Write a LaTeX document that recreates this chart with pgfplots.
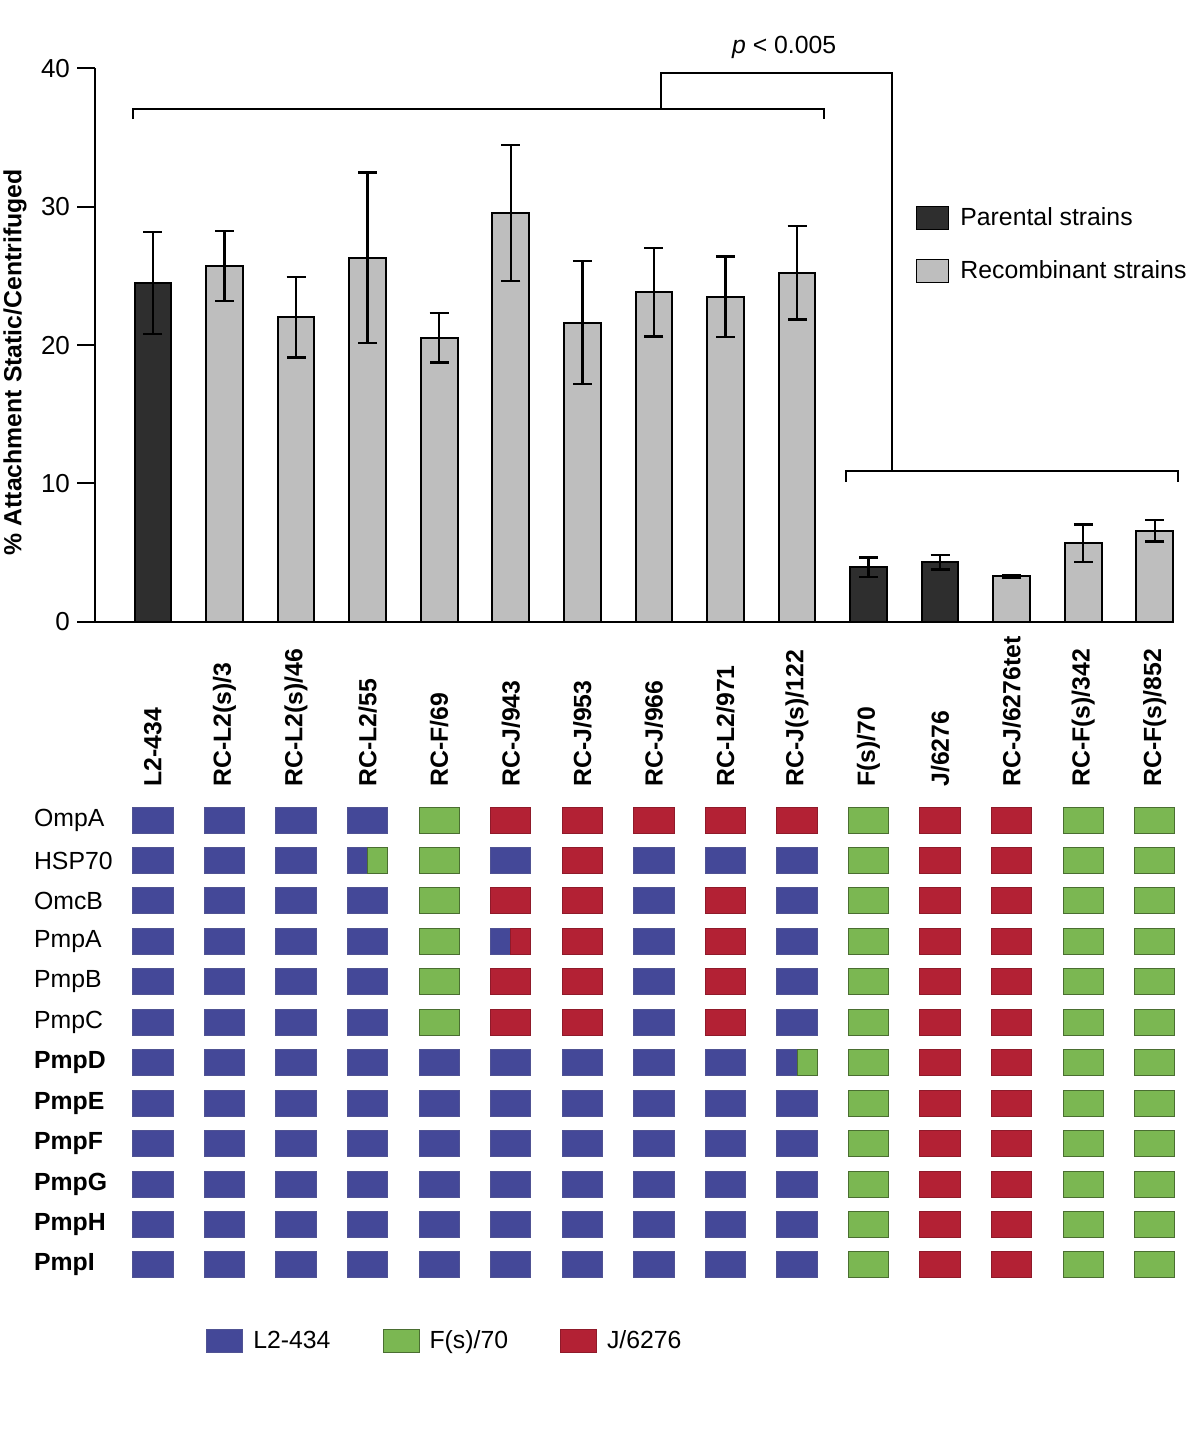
\documentclass[border=0pt]{standalone}
\usepackage{fontspec}
\setmainfont{Liberation Sans}
\usepackage{pgfplots}
\pgfplotsset{compat=1.18}
\usepackage{pgfplotstable}

\definecolor{pdark}{HTML}{2E2E2E}
\definecolor{plight}{HTML}{BEBEBE}
\definecolor{cblue}{HTML}{444898}
\definecolor{cgreen}{HTML}{7BB752}
\definecolor{cred}{HTML}{B32134}

\newcommand{\fs}{\fontsize{12.4pt}{14pt}\selectfont}

\pgfdeclareplotmark{cellfull}{\pgfpathrectangle{\pgfpoint{-10.075pt}{-6.5pt}}{\pgfpoint{20.15pt}{13pt}}\pgfusepathqfillstroke}
\pgfdeclareplotmark{cellleft}{\pgfpathrectangle{\pgfpoint{-10.075pt}{-6.5pt}}{\pgfpoint{10.075pt}{13pt}}\pgfusepathqfillstroke}
\pgfdeclareplotmark{cellright}{\pgfpathrectangle{\pgfpoint{0pt}{-6.5pt}}{\pgfpoint{10.075pt}{13pt}}\pgfusepathqfillstroke}

\pgfplotstableread{
x y e
0 24.49 3.67
10 3.95 0.70
11 4.29 0.53
}\parental

\pgfplotstableread{
x y e
1 25.72 2.52
2 22.01 2.90
3 26.32 6.16
4 20.54 1.80
5 29.55 4.93
6 21.62 4.45
7 23.82 3.20
8 23.50 2.92
9 25.24 3.38
12 3.28 0.10
13 5.67 1.36
14 6.58 0.79
}\recomb

\begin{document}
\begin{tikzpicture}
\useasboundingbox (-47.5pt,-405.65pt) rectangle (552.5pt,310.85pt);

% ---------------- bar chart ----------------
\begin{axis}[
  at={(0pt,0pt)}, anchor=south west,
  x=35.78pt, y=6.915pt,
  xmin=-0.81, xmax=14.25, ymin=0, ymax=40,
  axis x line*=bottom, axis y line*=left,
  axis line style={line width=1pt, black},
  clip=false,
  ytick={0,10,20,30,40},
  tick align=outside,
  major tick length=9pt,
  ytick style={line width=1pt, black},
  yticklabel style={font=\fontsize{13pt}{15pt}\selectfont},
  /pgf/number format/assume math mode=true,
  xtick={0,...,14},
  xticklabels={L2-434,RC-L2(s)/3,RC-L2(s)/46,RC-L2/55,RC-F/69,RC-J/943,RC-J/953,RC-J/966,RC-L2/971,RC-J(s)/122,F(s)/70,J/6276,RC-J/6276tet,RC-F(s)/342,RC-F(s)/852},
  xtick style={draw=none},
  xticklabel style={rotate=90, anchor=west, font=\fs\bfseries},
  xticklabel shift=77pt,
  ylabel={\% Attachment Static/Centrifuged},
  ylabel style={at={(axis description cs:-0.0742,0.469)}, anchor=center, font=\fs\bfseries},
  ybar, bar width=18.35pt, bar shift=0pt,
  legend style={at={(axis cs:10.66,30.28)}, anchor=north west, draw=none, fill=none,
    font=\fontsize{12.4pt}{14pt}\selectfont, inner sep=0pt, row sep=12pt,
    legend cell align=left,
    /tikz/every odd column/.append style={column sep=3.5pt}},
  legend image code/.code={\draw[#1, line width=0.6pt] (0pt,-5.75pt) rectangle (16pt,5.75pt);},
]
\addplot[fill=pdark, draw=black, line width=1pt,
  error bars/.cd, y dir=both, y explicit,
  error bar style={line width=1.2pt, black},
  error mark options={rotate=90, mark size=4.75pt, line width=1.2pt, black}]
  table[x=x, y=y, y error=e] {\parental};
\addlegendentry{Parental strains}
\addplot[fill=plight, draw=black, line width=1pt,
  error bars/.cd, y dir=both, y explicit,
  error bar style={line width=1.2pt, black},
  error mark options={rotate=90, mark size=4.75pt, line width=1.2pt, black}]
  table[x=x, y=y, y error=e] {\recomb};
\addlegendentry{Recombinant strains}

% significance brackets
\draw[line width=1pt, black] (axis cs:-0.275,36.33) -- (axis cs:-0.275,37.05) -- (axis cs:9.376,37.05) -- (axis cs:9.376,36.33);
\draw[line width=1pt, black] (axis cs:7.10,37.05) -- (axis cs:7.10,39.70) -- (axis cs:10.327,39.70) -- (axis cs:10.327,10.92);
\draw[line width=1pt, black] (axis cs:9.68,10.12) -- (axis cs:9.68,10.92) -- (axis cs:14.32,10.92) -- (axis cs:14.32,10.12);
\node[font=\fs] at (axis cs:8.82,41.5) {\textit{p} < 0.005};
\end{axis}

% ---------------- gene grid ----------------
\begin{axis}[
  at={(0pt,-89.05pt)}, anchor=north west,
  x=35.78pt, y=20.225pt, y dir=reverse,
  xmin=-0.81, xmax=14.25, ymin=0.5, ymax=12.5,
  axis line style={draw=none},
  major tick length=0pt, tick style={draw=none},
  xtick=\empty,
  ytick={1,...,12},
  yticklabels={OmpA,HSP70,OmcB,PmpA,PmpB,PmpC,\textbf{PmpD},\textbf{PmpE},\textbf{PmpF},\textbf{PmpG},\textbf{PmpH},\textbf{PmpI}},
  yticklabel style={anchor=west, xshift=-34pt, font=\fs},
  clip=false,
  legend columns=3,
  legend style={at={(axis cs:0.74,13.89)}, anchor=west, draw=none, fill=none,
    font=\fs, inner sep=0pt,
    /tikz/every odd column/.append style={column sep=3pt},
    /tikz/every even column/.append style={column sep=24pt}},
  legend image code/.code={\draw[#1, line width=0.5pt] (0pt,-5.75pt) rectangle (18pt,5.75pt);},
]
\addplot[only marks, mark=cellfull, fill=cblue, draw=cblue!80!gray, line width=0.5pt] coordinates {
(0,1)(1,1)(2,1)(3,1)
(0,2)(1,2)(2,2)(5,2)(7,2)(8,2)(9,2)
(0,3)(1,3)(2,3)(3,3)(7,3)(9,3)
(0,4)(1,4)(2,4)(3,4)(7,4)(9,4)
(0,5)(1,5)(2,5)(3,5)(7,5)(9,5)
(0,6)(1,6)(2,6)(3,6)(7,6)(9,6)
(0,7)(1,7)(2,7)(3,7)(4,7)(5,7)(6,7)(7,7)(8,7)
(0,8)(1,8)(2,8)(3,8)(4,8)(5,8)(6,8)(7,8)(8,8)(9,8)
(0,9)(1,9)(2,9)(3,9)(4,9)(5,9)(6,9)(7,9)(8,9)(9,9)
(0,10)(1,10)(2,10)(3,10)(4,10)(5,10)(6,10)(7,10)(8,10)(9,10)
(0,11)(1,11)(2,11)(3,11)(4,11)(5,11)(6,11)(7,11)(8,11)(9,11)
(0,12)(1,12)(2,12)(3,12)(4,12)(5,12)(6,12)(7,12)(8,12)(9,12)
};
\addlegendentry{L2-434}
\addplot[only marks, mark=cellfull, fill=cgreen, draw=cgreen!60!black, line width=0.5pt] coordinates {
(4,1)(10,1)(13,1)(14,1)
(4,2)(10,2)(13,2)(14,2)
(4,3)(10,3)(13,3)(14,3)
(4,4)(10,4)(13,4)(14,4)
(4,5)(10,5)(13,5)(14,5)
(4,6)(10,6)(13,6)(14,6)
(10,7)(13,7)(14,7)
(10,8)(13,8)(14,8)
(10,9)(13,9)(14,9)
(10,10)(13,10)(14,10)
(10,11)(13,11)(14,11)
(10,12)(13,12)(14,12)
};
\addlegendentry{F(s)/70}
\addplot[only marks, mark=cellfull, fill=cred, draw=cred!80!black, line width=0.5pt] coordinates {
(5,1)(6,1)(7,1)(8,1)(9,1)(11,1)(12,1)
(6,2)(11,2)(12,2)
(5,3)(6,3)(8,3)(11,3)(12,3)
(6,4)(8,4)(11,4)(12,4)
(5,5)(6,5)(8,5)(11,5)(12,5)
(5,6)(6,6)(8,6)(11,6)(12,6)
(11,7)(12,7)
(11,8)(12,8)
(11,9)(12,9)
(11,10)(12,10)
(11,11)(12,11)
(11,12)(12,12)
};
\addlegendentry{J/6276}
% split cells
\addplot[forget plot, only marks, mark=cellleft, fill=cblue, draw=cblue!80!gray, line width=0.5pt] coordinates {(3,2)(5,4)(9,7)};
\addplot[forget plot, only marks, mark=cellright, fill=cgreen, draw=cgreen!60!black, line width=0.5pt] coordinates {(3,2)(9,7)};
\addplot[forget plot, only marks, mark=cellright, fill=cred, draw=cred!80!black, line width=0.5pt] coordinates {(5,4)};
\end{axis}
\end{tikzpicture}
\end{document}
